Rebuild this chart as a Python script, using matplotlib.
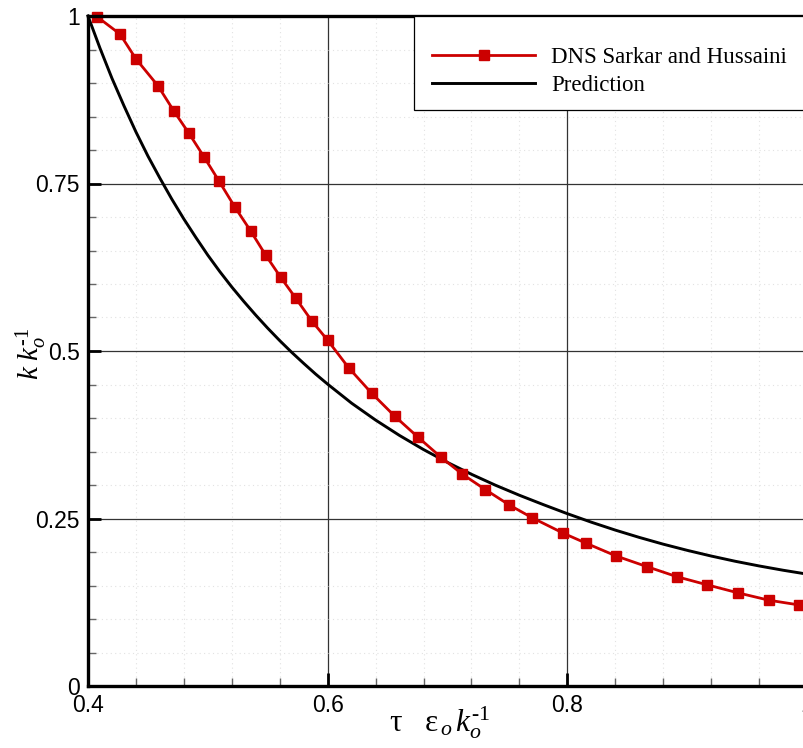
import matplotlib
matplotlib.use("Agg")
import matplotlib.pyplot as plt
from matplotlib.lines import Line2D
from matplotlib.patches import Rectangle
from matplotlib.ticker import MultipleLocator

# DNS data (Sarkar & Hussaini)
dns_t = [0.4075, 0.4267, 0.4400, 0.4583, 0.4717, 0.4842, 0.4967, 0.5092, 0.5225,
         0.5358, 0.5483, 0.5608, 0.5733, 0.5867, 0.6000, 0.6175, 0.6367, 0.6558,
         0.6750, 0.6942, 0.7125, 0.7317, 0.7517, 0.7708, 0.7967, 0.8158, 0.8408,
         0.8667, 0.8917, 0.9167, 0.9425, 0.9683, 0.9933]
dns_k = [0.999, 0.973, 0.936, 0.896, 0.858, 0.825, 0.790, 0.754, 0.715,
         0.679, 0.643, 0.610, 0.579, 0.545, 0.516, 0.475, 0.437, 0.403,
         0.372, 0.342, 0.316, 0.293, 0.270, 0.251, 0.228, 0.213, 0.194,
         0.178, 0.163, 0.151, 0.139, 0.128, 0.121]

# Model prediction
pred_t = [0.40, 0.41, 0.42, 0.43, 0.44, 0.45, 0.46, 0.47, 0.48, 0.49,
          0.50, 0.51, 0.52, 0.53, 0.54, 0.55, 0.56, 0.57, 0.58, 0.59,
          0.60, 0.62, 0.64, 0.66, 0.68, 0.70, 0.72, 0.74, 0.76, 0.78,
          0.80, 0.82, 0.84, 0.86, 0.88, 0.90, 0.92, 0.94, 0.96, 0.98, 1.00]
pred_k = [1.000, 0.952, 0.907, 0.866, 0.827, 0.791, 0.758, 0.7265, 0.697, 0.6695,
          0.643, 0.6185, 0.5955, 0.574, 0.5535, 0.534, 0.5155, 0.498, 0.4815, 0.4655,
          0.4505, 0.4221, 0.3969, 0.3739, 0.3529, 0.3337, 0.3160, 0.2997, 0.2847, 0.2707,
          0.2572, 0.2445, 0.2327, 0.2218, 0.2117, 0.2025, 0.1940, 0.1862, 0.1792, 0.1728,
          0.1670]

x_ticks = [0.4, 0.6, 0.8, 1.0]
x_tick_labels = ["0.4", "0.6", "0.8", "1"]
y_ticks = [0.0, 0.25, 0.5, 0.75, 1.0]
y_tick_labels = ["0", "0.25", "0.5", "0.75", "1"]

series_labels = ["DNS Sarkar and Hussaini", "Prediction"]

RED = "#cc0000"

plt.rcParams["mathtext.fontset"] = "custom"
plt.rcParams["mathtext.rm"] = "Liberation Serif"
plt.rcParams["mathtext.it"] = "Liberation Serif:italic"

W, H = 804, 748
fig = plt.figure(figsize=(W / 100, H / 100), dpi=100)
fig.patch.set_facecolor("white")

# axes frame in pixel terms: x 88..807, y 16..686
ax = fig.add_axes([88 / W, 1 - 686 / H, 719 / W, 670 / H])
ax.set_xlim(0.4, 1.0)
ax.set_ylim(0.0, 1.0)

ax.set_xticks(x_ticks)
ax.set_xticklabels(x_tick_labels)
ax.set_yticks(y_ticks)
ax.set_yticklabels(y_tick_labels)
ax.xaxis.set_minor_locator(MultipleLocator(0.04))
ax.yaxis.set_minor_locator(MultipleLocator(0.05))

for lab in ax.get_xticklabels() + ax.get_yticklabels():
    lab.set_fontfamily("Liberation Sans")

ax.tick_params(which="major", direction="in", length=9.5, width=2.0,
               labelsize=16.5, pad=6, top=False, right=False, color="black")
ax.tick_params(which="minor", direction="in", length=5.5, width=1.0,
               top=False, right=False, color="#666666")

ax.grid(which="major", color="#333333", linewidth=0.9, linestyle="-")
ax.grid(which="minor", color="#e2e2e2", linewidth=0.8, linestyle=(0, (1, 3)))
ax.set_axisbelow(True)

for side in ("left", "bottom", "top", "right"):
    ax.spines[side].set_linewidth(2.4)
    ax.spines[side].set_color("black")
    ax.spines[side].set_zorder(5)

ax.plot(pred_t, pred_k, color="black", linewidth=2.1, zorder=3, clip_on=False,
        solid_joinstyle="round")
ax.plot(dns_t, dns_k, color=RED, linewidth=2.0, marker="s", markersize=7.4,
        markerfacecolor=RED, markeredgecolor=RED, zorder=4, clip_on=False)

ax.set_xlabel(r"$\mathrm{\tau}\ \ \ \mathrm{\varepsilon}_{\,\mathit{o}}\,\mathit{k}_{\mathit{o}}^{\text{-1}}$",
              fontsize=22.5, va="center", ha="center")
ax.xaxis.set_label_coords(0.49, -0.054)
ax.set_ylabel(r"$\mathit{k}\ \mathit{k}_{\mathit{o}}^{\text{-1}}$",
              fontsize=21, va="center", ha="center")
ax.yaxis.set_label_coords(-0.079, 0.496)

# legend box
box = Rectangle((414 / W, 1 - 110 / H), (812 - 414) / W, 94 / H,
                transform=fig.transFigure, facecolor="white", edgecolor="black",
                linewidth=0.9, zorder=6, clip_on=False)
ax.add_artist(box)

handles = [
    Line2D([], [], color=RED, linewidth=2.0, marker="s", markersize=7.4,
           markerfacecolor=RED, markeredgecolor=RED),
    Line2D([], [], color="black", linewidth=2.1),
]
leg = ax.legend(handles, series_labels, loc="upper left",
                bbox_to_anchor=(432 / W, 1 - 47 / H), bbox_transform=fig.transFigure,
                frameon=False, borderpad=0, borderaxespad=0, numpoints=1,
                handlelength=4.5, handletextpad=0.7, labelspacing=0.32,
                prop={"family": "Liberation Serif", "size": 16.5})
leg.set_zorder(7)

fig.savefig("out.png", dpi=100, facecolor="white")
